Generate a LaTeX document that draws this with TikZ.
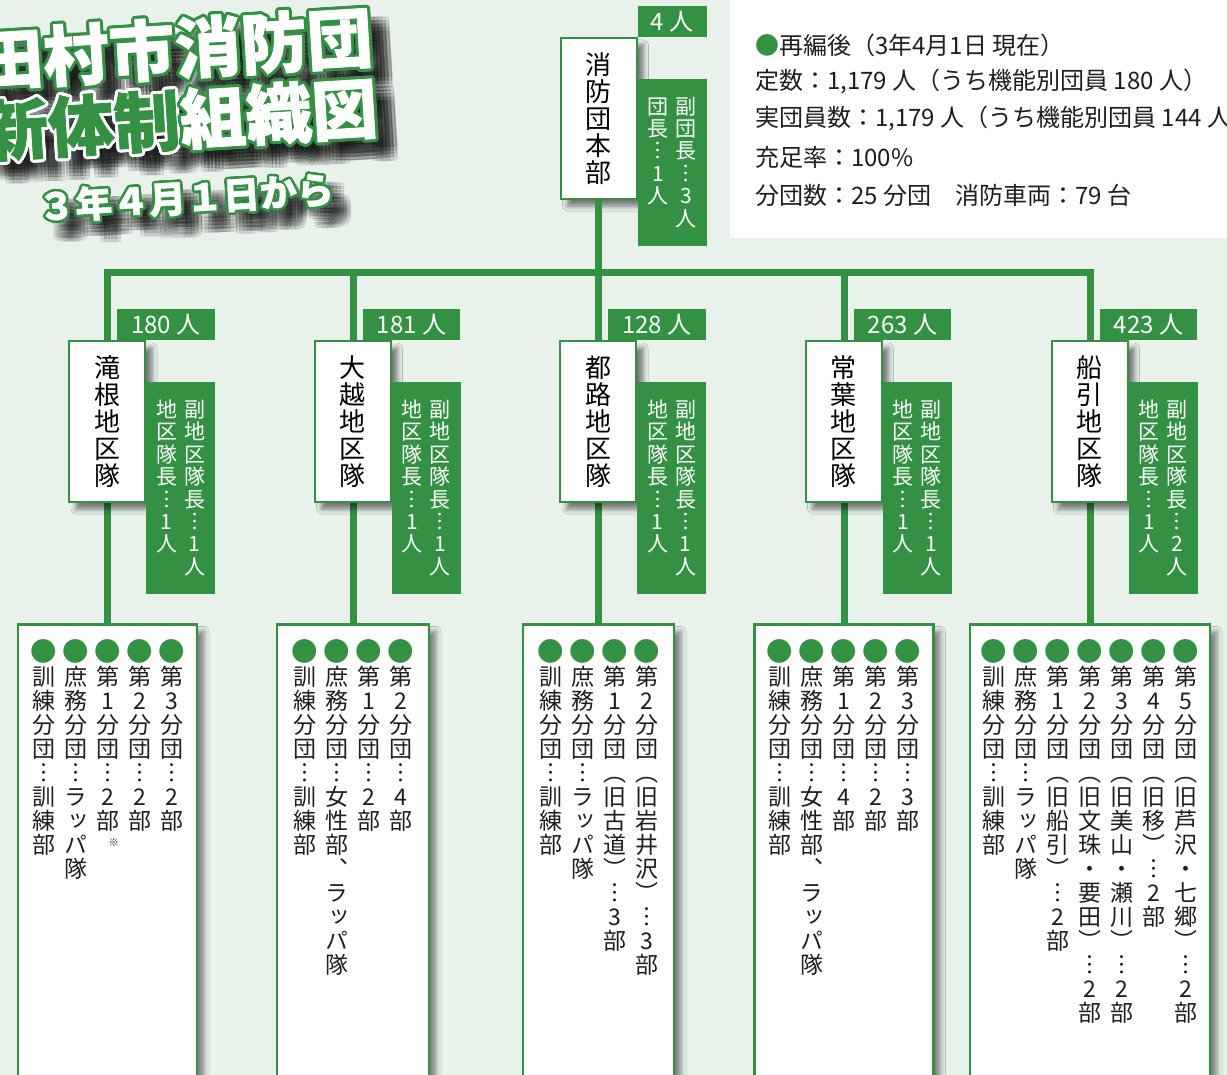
\documentclass[tikz,border=0pt]{standalone}
\usepackage{fontspec}
\usepackage{xcolor}
\usepackage{graphicx}
\usepackage{contour}
\usepackage{tikz}
\usetikzlibrary{shadows.blur}

\setmainfont{Noto Sans CJK JP}
\newfontfamily\tate{Noto Sans CJK JP}[RawFeature=+vert]
\newfontfamily\heavy{Noto Sans CJK JP}[BoldFeatures={FakeBold=1.2}]

\definecolor{fdgreen}{RGB}{52,145,68}
\definecolor{fdbg}{RGB}{232,241,234}
\definecolor{fdtext}{RGB}{30,30,30}

\def\vtend{\relax vtend}
\newcommand\vtloop[1]{\ifx\vtend#1\else\hbox to 1em{\hss#1\hss}\expandafter\vtloop\fi}
\newcommand\vtext[1]{\vtop{\tate\lineskiplimit=-\maxdimen\lineskip=0pt\vtloop#1\vtend}}
\newcommand\bul{{\color{fdgreen}\scalebox{1.15}{●}}}
\newcommand\kome{\raisebox{0.3em}{\kern0.55em\scalebox{0.45}{※}}}
\newcommand\lcol[1]{\hbox to 32pt{\hss\vtext{\bul #1}\hss}}
\contourlength{3pt}
\contournumber{20}

\begin{document}
\begin{tikzpicture}[x=1pt,y=-1pt,
	trunk/.style={fdgreen,line width=7pt},
	whitebox/.style={draw=fdgreen,line width=2pt,fill=white,minimum width=76pt,minimum height=161pt,inner sep=0pt,text=black,font=\fontsize{26}{27}\selectfont,blur shadow={shadow xshift=7pt,shadow yshift=-7pt,shadow blur radius=5pt,shadow opacity=50}},
	countbox/.style={fill=fdgreen,text=white,minimum height=31pt,inner sep=0pt,font=\fontsize{24}{24}\selectfont},
	rolebox/.style={fill=fdgreen,text=white,minimum width=69pt,minimum height=212pt,inner sep=0pt,font=\fontsize{21}{22.4}\selectfont},
	listbox/.style={draw=fdgreen,line width=2.5pt,fill=white,minimum height=520pt,inner sep=0pt,anchor=north,blur shadow={shadow xshift=7pt,shadow yshift=-7pt,shadow blur radius=5pt,shadow opacity=45}},
	listtext/.style={anchor=north,inner sep=0pt,text=fdtext,font=\fontsize{23}{24}\selectfont},
	infotext/.style={anchor=west,inner sep=0pt,text=fdtext,font=\fontsize{24}{24}\selectfont},
	titlefont/.style={font=\fontsize{#1}{#1}\selectfont\heavy\bfseries,rotate=3.5,inner sep=0pt}
]
	\useasboundingbox (0,0) rectangle (1227,1075);
	\fill[fdbg] (0,0) rectangle (1227,1075);

	% title
	\foreach \dx in {-7,-3.5,0,3.5,7} {
		\foreach \dy in {-7,-3.5,0,3.5,7} {
			\node[titlefont=66,text=black,text opacity=0.07] at (190+\dx,64+\dy) {田村市消防団};
			\node[titlefont=66,text=black,text opacity=0.07] at (195+\dx,134+\dy) {新体制組織図};
			\node[titlefont=37,text=black,text opacity=0.07] at (200+\dx,212+\dy) {３年４月１日から};
		}
	}
	\node[titlefont=66,text=white] (title1) at (175,50) {\contour{fdgreen}{田村市消防団}};
	\node[titlefont=66] (title2) at (180,121) {{\color{fdgreen}\contour{white}{新体制}}{\color{white}\contour{fdgreen}{組織図}}};
	\node[titlefont=37,text=white] (title3) at (186,199) {\contourlength{2.5pt}\contour{fdgreen}{３年４月１日から}};

	% info
	\node[fill=white,anchor=north west,minimum width=500pt,minimum height=238pt,inner sep=0pt] (info) at (730,0) {};
	\node[infotext] (info1) at (755,45) {{\color{fdgreen}●}再編後（3年4月1日 現在）};
	\node[infotext] (info2) at (755,82) {定数：1,179 人（うち機能別団員 180 人）};
	\node[infotext] (info3) at (755,119) {実団員数：1,179 人（うち機能別団員 144 人）};
	\node[infotext] (info4) at (755,157) {充足率：100\%};
	\node[infotext] (info5) at (755,195) {分団数：25 分団　消防車両：79 台};

	% lists
	\node[listbox,minimum width=179pt] (takineL) at (107.5,623) {};
	\node[listtext] (takineT) at (107.5,639) {\lcol{訓練分団︙訓練部}\lcol{庶務分団︙ラッパ隊}\lcol{第1分団︙2部\kome}\lcol{第2分団︙2部}\lcol{第3分団︙2部}};
	\node[listbox,minimum width=152pt] (ogoeL) at (353,623) {};
	\node[listtext] (ogoeT) at (353,639) {\lcol{訓練分団︙訓練部}\lcol{庶務分団︙女性部︑ラッパ隊}\lcol{第1分団︙2部}\lcol{第2分団︙4部}};
	\node[listbox,minimum width=151pt] (miyakojiL) at (598.5,623) {};
	\node[listtext] (miyakojiT) at (598.5,639) {\lcol{訓練分団︙訓練部}\lcol{庶務分団︙ラッパ隊}\lcol{第1分団︵旧古道︶︙3部}\lcol{第2分団︵旧岩井沢︶︙3部}};
	\node[listbox,minimum width=179pt] (tokiwaL) at (844,623) {};
	\node[listtext] (tokiwaT) at (844,639) {\lcol{訓練分団︙訓練部}\lcol{庶務分団︙女性部︑ラッパ隊}\lcol{第1分団︙4部}\lcol{第2分団︙2部}\lcol{第3分団︙3部}};
	\node[listbox,minimum width=240pt] (funehikiL) at (1090,623) {};
	\node[listtext] (funehikiT) at (1090,639) {\lcol{訓練分団︙訓練部}\lcol{庶務分団︙ラッパ隊}\lcol{第1分団︵旧船引︶︙2部}\lcol{第2分団︵旧文珠・要田︶︙2部}\lcol{第3分団︵旧美山・瀬川︶︙2部}\lcol{第4分団︵旧移︶︙2部}\lcol{第5分団︵旧芦沢・七郷︶︙2部}};

	% headquarters
	\node[whitebox] (hq) at (598.5,118.5) {\vtext{消防団本部}};
	\node[countbox,minimum width=69pt] (hqN) at (672.2,21.3) {4 人};
	\node[rolebox,minimum height=167pt] (hqR) at (672.2,162.3) {\vtext{団長︙1人}\hspace{7pt}\vtext{副団長︙3人}};

	% lines
	\coordinate (busL) at (107.5,273);
	\coordinate (busR) at (1090,273);
	\draw[trunk] (takineL.north) -- (busL) -- (busR) -- (funehikiL.north);
	\draw[trunk] (hq.south) -- (miyakojiL.north);
	\draw[trunk] (ogoeL.north) -- (ogoeL.north |- busL);
	\draw[trunk] (tokiwaL.north) -- (tokiwaL.north |- busL);

	% districts
	\node[whitebox] (takine) at (107,421.5) {\vtext{滝根地区隊}};
	\node[countbox,minimum width=97.5pt] (takineN) at (166,324.5) {180 人};
	\node[rolebox] (takineR) at (180.5,487.8) {\vtext{地区隊長︙1人}\hspace{7pt}\vtext{副地区隊長︙1人}};

	\node[whitebox] (ogoe) at (352.5,421.5) {\vtext{大越地区隊}};
	\node[countbox,minimum width=97.5pt] (ogoeN) at (411.5,324.5) {181 人};
	\node[rolebox] (ogoeR) at (426,487.8) {\vtext{地区隊長︙1人}\hspace{7pt}\vtext{副地区隊長︙1人}};

	\node[whitebox] (miyakoji) at (598,421.5) {\vtext{都路地区隊}};
	\node[countbox,minimum width=97.5pt] (miyakojiN) at (657,324.5) {128 人};
	\node[rolebox] (miyakojiR) at (671.5,487.8) {\vtext{地区隊長︙1人}\hspace{7pt}\vtext{副地区隊長︙1人}};

	\node[whitebox] (tokiwa) at (843.5,421.5) {\vtext{常葉地区隊}};
	\node[countbox,minimum width=97.5pt] (tokiwaN) at (902.5,324.5) {263 人};
	\node[rolebox] (tokiwaR) at (917,487.8) {\vtext{地区隊長︙1人}\hspace{7pt}\vtext{副地区隊長︙1人}};

	\node[whitebox] (funehiki) at (1089.5,421.5) {\vtext{船引地区隊}};
	\node[countbox,minimum width=97.5pt] (funehikiN) at (1148.5,324.5) {423 人};
	\node[rolebox] (funehikiR) at (1163,487.8) {\vtext{地区隊長︙1人}\hspace{7pt}\vtext{副地区隊長︙2人}};
\end{tikzpicture}
\end{document}
